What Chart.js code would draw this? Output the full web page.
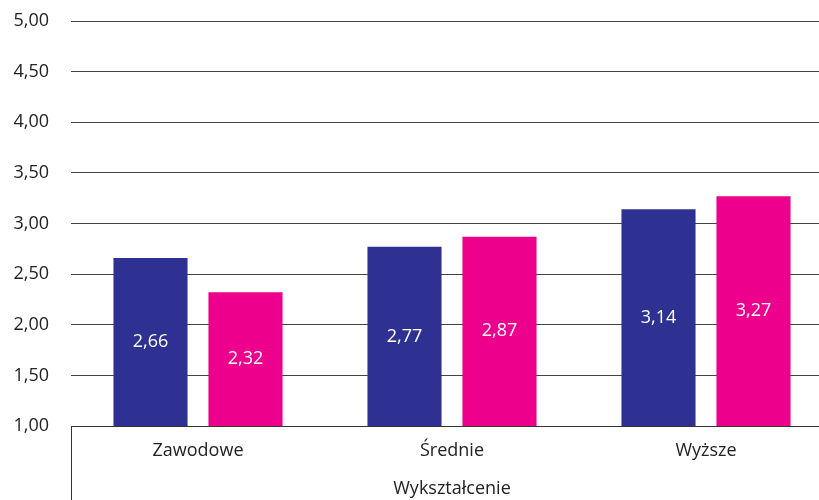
<!DOCTYPE html>
<html>
<head>
<meta charset="utf-8">
<script src="https://cdn.jsdelivr.net/npm/chart.js@4"></script>
<style>
  html, body { margin: 0; padding: 0; background: #fff; overflow: hidden; }
  /* plot runs a little past the right edge of the window, like the original */
  #wrap { width: 833px; height: 500px; }
</style>
</head>
<body>
<div id="wrap"><canvas id="chart-wyksztalcenie"></canvas></div>
<script>
const categories = ['Zawodowe', 'Średnie', 'Wyższe'];
const seriesA = [2.66, 2.77, 3.14];
const seriesB = [2.32, 2.87, 3.27];
const axisTitle = 'Wykształcenie';

const fmt = v => Number(v).toFixed(2).replace('.', ',');

// white value labels in the middle of the visible part of each bar
const barLabels = {
  id: 'barLabels',
  afterDatasetsDraw(chart) {
    const ctx = chart.ctx;
    const bottom = chart.chartArea.bottom;
    ctx.save();
    ctx.fillStyle = '#ffffff';
    ctx.font = '18px "Open Sans"';
    ctx.textAlign = 'center';
    ctx.textBaseline = 'middle';
    chart.data.datasets.forEach((ds, i) => {
      chart.getDatasetMeta(i).data.forEach((bar, j) => {
        ctx.fillText(fmt(ds.data[j]), bar.x, (bar.y + bottom) / 2);
      });
    });
    ctx.restore();
  }
};

// left line running down past the x axis
const leftLine = {
  id: 'leftLine',
  afterDraw(chart) {
    const ctx = chart.ctx;
    const a = chart.chartArea;
    ctx.save();
    ctx.strokeStyle = '#333';
    ctx.lineWidth = 1;
    ctx.beginPath();
    ctx.moveTo(a.left + 0.5, a.bottom);
    ctx.lineTo(a.left + 0.5, chart.height);
    ctx.stroke();
    ctx.restore();
  }
};

new Chart(document.getElementById('chart-wyksztalcenie'), {
  type: 'bar',
  data: {
    labels: categories,
    datasets: [
      { data: seriesA, backgroundColor: '#2e3192' },
      { data: seriesB, backgroundColor: '#ec008c' },
    ],
  },
  options: {
    responsive: true,
    maintainAspectRatio: false,
    animation: false,
    layout: { padding: { top: 21, right: 0, bottom: 0, left: 0 } },
    categoryPercentage: 0.748,
    barPercentage: 0.78,
    plugins: {
      legend: { display: false },
      tooltip: { enabled: false },
    },
    scales: {
      x: {
        grid: { display: false },
        border: { display: true, color: '#333', width: 1 },
        ticks: { color: '#222', font: { family: 'Open Sans', size: 18 }, padding: 6 },
        title: {
          display: true,
          text: axisTitle,
          color: '#222',
          font: { family: 'Open Sans', size: 18 },
          padding: { top: 12, bottom: 0 },
        },
        afterFit(scale) { scale.height = 74; },
      },
      y: {
        min: 1,
        max: 5,
        ticks: {
          stepSize: 0.5,
          color: '#222',
          font: { family: 'Open Sans', size: 18 },
          padding: 22,
          callback: v => fmt(v),
        },
        grid: { color: '#444', lineWidth: 1, drawTicks: false },
        border: { display: false },
        afterFit(scale) {
          scale.width = 71;
          scale.paddingTop = 0;
          scale.paddingBottom = 0;
        },
      },
    },
  },
  plugins: [barLabels, leftLine],
});
</script>
</body>
</html>
